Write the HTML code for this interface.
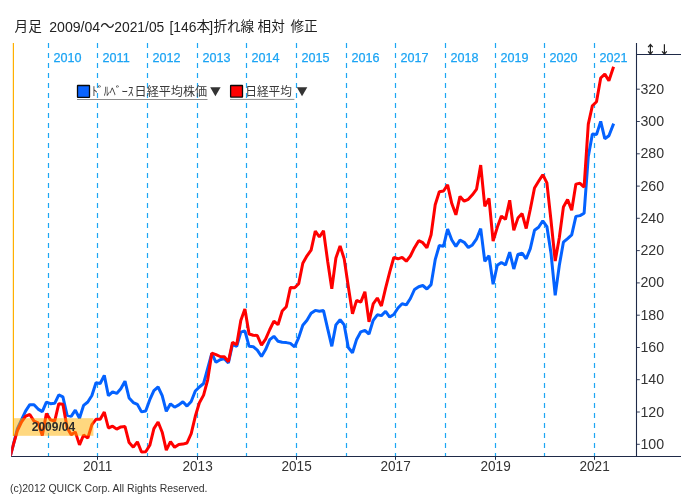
<!DOCTYPE html><html><head><meta charset="utf-8"><title>chart</title><style>html,body{margin:0;padding:0;background:#fff}</style></head><body><svg width="692" height="501" viewBox="0 0 692 501" style="display:block;will-change:transform;font-family:'Liberation Sans',sans-serif"><defs><clipPath id="cp"><rect x="11.2" y="0" width="640" height="456.5"/></clipPath></defs><rect width="692" height="501" fill="#fff"/><text x="14.6" y="31.2" font-size="13.6" fill="#222" style="font-family:'Liberation Sans','Noto Sans CJK JP',sans-serif">月足</text><text x="49.2" y="31.8" font-size="13.9" fill="#222" textLength="51" lengthAdjust="spacingAndGlyphs">2009/04</text><text x="100.2" y="31.2" font-size="14.4" fill="#222" style="font-family:'Liberation Sans','Noto Sans CJK JP',sans-serif">〜</text><text x="114.3" y="31.8" font-size="13.9" fill="#222" textLength="50" lengthAdjust="spacingAndGlyphs">2021/05</text><text x="169.4" y="31.8" font-size="13.9" fill="#222" textLength="27" lengthAdjust="spacingAndGlyphs">[146</text><text x="196.6" y="31.2" font-size="13.6" fill="#222" style="font-family:'Liberation Sans','Noto Sans CJK JP',sans-serif">本</text><text x="209.3" y="31.8" font-size="13.9" fill="#222">]</text><text x="213.4" y="31.2" font-size="13.6" fill="#222" style="font-family:'Liberation Sans','Noto Sans CJK JP',sans-serif">折れ線</text><text x="257.6" y="31.2" font-size="13.6" fill="#222" style="font-family:'Liberation Sans','Noto Sans CJK JP',sans-serif">相対</text><text x="290.4" y="31.2" font-size="13.6" fill="#222" style="font-family:'Liberation Sans','Noto Sans CJK JP',sans-serif">修正</text><line x1="48.5" y1="43.0" x2="48.5" y2="456.5" stroke="#1ca6f4" stroke-width="1.2" stroke-dasharray="4.9 5.1"/><text x="53.6" y="61.9" font-size="12.6" fill="#1ca4f4" stroke="#1ca4f4" stroke-width="0.25">2010</text><line x1="97.5" y1="43.0" x2="97.5" y2="456.5" stroke="#1ca6f4" stroke-width="1.2" stroke-dasharray="4.9 5.1"/><text x="102.6" y="61.9" font-size="12.6" fill="#1ca4f4" stroke="#1ca4f4" stroke-width="0.25">2011</text><line x1="147.5" y1="43.0" x2="147.5" y2="456.5" stroke="#1ca6f4" stroke-width="1.2" stroke-dasharray="4.9 5.1"/><text x="152.6" y="61.9" font-size="12.6" fill="#1ca4f4" stroke="#1ca4f4" stroke-width="0.25">2012</text><line x1="197.5" y1="43.0" x2="197.5" y2="456.5" stroke="#1ca6f4" stroke-width="1.2" stroke-dasharray="4.9 5.1"/><text x="202.6" y="61.9" font-size="12.6" fill="#1ca4f4" stroke="#1ca4f4" stroke-width="0.25">2013</text><line x1="246.5" y1="43.0" x2="246.5" y2="456.5" stroke="#1ca6f4" stroke-width="1.2" stroke-dasharray="4.9 5.1"/><text x="251.6" y="61.9" font-size="12.6" fill="#1ca4f4" stroke="#1ca4f4" stroke-width="0.25">2014</text><line x1="296.5" y1="43.0" x2="296.5" y2="456.5" stroke="#1ca6f4" stroke-width="1.2" stroke-dasharray="4.9 5.1"/><text x="301.6" y="61.9" font-size="12.6" fill="#1ca4f4" stroke="#1ca4f4" stroke-width="0.25">2015</text><line x1="346.5" y1="43.0" x2="346.5" y2="456.5" stroke="#1ca6f4" stroke-width="1.2" stroke-dasharray="4.9 5.1"/><text x="351.6" y="61.9" font-size="12.6" fill="#1ca4f4" stroke="#1ca4f4" stroke-width="0.25">2016</text><line x1="395.5" y1="43.0" x2="395.5" y2="456.5" stroke="#1ca6f4" stroke-width="1.2" stroke-dasharray="4.9 5.1"/><text x="400.6" y="61.9" font-size="12.6" fill="#1ca4f4" stroke="#1ca4f4" stroke-width="0.25">2017</text><line x1="445.5" y1="43.0" x2="445.5" y2="456.5" stroke="#1ca6f4" stroke-width="1.2" stroke-dasharray="4.9 5.1"/><text x="450.6" y="61.9" font-size="12.6" fill="#1ca4f4" stroke="#1ca4f4" stroke-width="0.25">2018</text><line x1="495.5" y1="43.0" x2="495.5" y2="456.5" stroke="#1ca6f4" stroke-width="1.2" stroke-dasharray="4.9 5.1"/><text x="500.6" y="61.9" font-size="12.6" fill="#1ca4f4" stroke="#1ca4f4" stroke-width="0.25">2019</text><line x1="544.5" y1="43.0" x2="544.5" y2="456.5" stroke="#1ca6f4" stroke-width="1.2" stroke-dasharray="4.9 5.1"/><text x="549.6" y="61.9" font-size="12.6" fill="#1ca4f4" stroke="#1ca4f4" stroke-width="0.25">2020</text><line x1="594.5" y1="43.0" x2="594.5" y2="456.5" stroke="#1ca6f4" stroke-width="1.2" stroke-dasharray="4.9 5.1"/><text x="599.6" y="61.9" font-size="12.6" fill="#1ca4f4" stroke="#1ca4f4" stroke-width="0.25">2021</text><rect x="77.5" y="85.5" width="12" height="11.9" rx="0.3" fill="#0a64ff" stroke="#0a0a0a" stroke-width="1.3"/><text x="91.8" y="96.3" font-size="12.4" fill="#3a3a3a" textLength="42" lengthAdjust="spacingAndGlyphs" style="font-family:'Liberation Sans','Noto Sans CJK JP',sans-serif">ﾄﾞﾙﾍﾞｰｽ</text><text x="134.6" y="96.3" font-size="12.1" fill="#3a3a3a" textLength="72.5" lengthAdjust="spacingAndGlyphs" style="font-family:'Liberation Sans','Noto Sans CJK JP',sans-serif">日経平均株価</text><line x1="77" y1="99.5" x2="207.5" y2="99.5" stroke="#8c8c8c" stroke-width="1"/><path d="M210.2 87.3h10.4l-5.2 9z" fill="#333"/><rect x="230.6" y="85.5" width="11.9" height="11.6" rx="0.3" fill="#ff0000" stroke="#0a0a0a" stroke-width="1.3"/><text x="245.2" y="96.3" font-size="12.1" fill="#3a3a3a" textLength="46.8" lengthAdjust="spacingAndGlyphs" style="font-family:'Liberation Sans','Noto Sans CJK JP',sans-serif">日経平均</text><line x1="230" y1="99.4" x2="294.4" y2="99.4" stroke="#8c8c8c" stroke-width="1"/><path d="M296.8 87.3h10.5l-5.25 9z" fill="#333"/><g clip-path="url(#cp)"><polyline points="9.2,460.3 13.3,444.8 17.4,428.6 21.6,419.6 25.7,410.9 29.8,404.7 34.0,404.7 38.1,409.1 42.3,411.6 46.4,402.1 50.5,403.7 54.7,403.3 58.8,394.9 62.9,396.8 67.1,415.3 71.2,416.4 75.3,410.2 79.5,418.2 83.6,405.4 87.8,402.0 91.9,395.5 96.0,382.8 100.2,383.5 104.3,375.4 108.4,395.7 112.6,391.9 116.7,393.4 120.8,388.7 125.0,381.2 129.1,398.0 133.3,402.6 137.4,404.4 141.5,411.9 145.7,411.0 149.8,399.7 153.9,390.6 158.1,387.0 162.2,395.7 166.3,411.3 170.5,403.8 174.6,407.2 178.8,404.9 182.9,401.8 187.0,406.1 191.2,401.5 195.3,391.0 199.4,387.0 203.6,383.5 207.7,368.5 211.8,353.5 216.0,362.3 220.1,359.8 224.3,358.6 228.4,362.9 232.5,344.4 236.7,346.3 240.8,332.2 244.9,330.8 249.1,346.3 253.2,346.7 257.3,350.1 261.5,356.5 265.6,349.6 269.8,339.7 273.9,336.3 278.0,341.3 282.2,342.3 286.3,342.6 290.4,343.4 294.6,346.9 298.7,337.6 302.8,325.2 307.0,320.3 311.1,313.3 315.3,310.4 319.4,311.3 323.5,310.6 327.7,328.9 331.8,346.3 335.9,324.9 340.1,319.7 344.2,324.9 348.3,347.5 352.5,352.7 356.6,339.4 360.8,331.8 364.9,330.3 369.0,334.1 373.2,320.3 377.3,314.8 381.4,315.6 385.6,311.3 389.7,317.1 393.8,314.5 398.0,308.0 402.1,303.8 406.3,304.9 410.4,298.5 414.5,289.5 418.7,286.7 422.8,285.5 426.9,289.0 431.1,284.6 435.2,259.7 439.3,245.5 443.5,246.4 447.6,229.0 451.8,240.0 455.9,246.4 460.0,240.2 464.2,242.3 468.3,247.5 472.4,244.9 476.6,238.8 480.7,228.6 484.8,261.4 489.0,255.6 493.1,284.3 497.3,265.2 501.4,262.5 505.5,265.0 509.7,252.2 513.8,269.0 517.9,254.5 522.1,253.2 526.2,258.8 530.3,248.6 534.5,230.3 538.6,227.2 542.8,220.8 546.9,226.6 551.0,253.2 555.2,295.3 559.3,265.5 563.4,242.2 567.6,238.6 571.7,234.9 575.9,216.4 580.0,215.6 584.1,213.3 588.3,156.5 592.4,134.0 596.5,134.6 600.7,121.4 604.8,138.7 608.9,135.7 613.1,125.0" fill="none" stroke="#0462ff" stroke-width="3" stroke-linejoin="bevel" stroke-linecap="square"/><polyline points="9.2,460.4 13.3,444.9 17.4,430.7 21.6,421.8 25.7,416.1 29.8,414.5 34.0,421.1 38.1,422.9 42.3,435.4 46.4,413.6 50.5,419.9 54.7,421.2 58.8,403.7 62.9,404.3 67.1,427.7 71.2,434.8 75.3,431.9 79.5,444.9 83.6,435.0 87.8,438.1 91.9,424.7 96.0,419.3 100.2,419.2 104.3,412.1 108.4,428.0 112.6,426.2 116.7,429.1 120.8,426.9 125.0,426.6 129.1,442.6 133.3,447.2 137.4,441.9 141.5,452.0 145.7,451.7 149.8,445.3 153.9,428.6 158.1,422.0 162.2,432.2 166.3,450.1 170.5,441.6 174.6,447.3 178.8,444.6 182.9,444.1 187.0,443.0 191.2,433.6 195.3,416.3 199.4,402.8 203.6,395.1 207.7,379.8 211.8,353.2 216.0,354.7 220.1,356.5 224.3,356.7 228.4,361.8 232.5,342.3 236.7,344.7 240.8,320.4 244.9,308.9 249.1,334.0 253.2,335.3 257.3,335.6 261.5,345.1 265.6,339.1 269.8,329.5 273.9,321.1 278.0,324.7 282.2,311.0 286.3,306.7 290.4,287.6 294.6,287.8 298.7,283.7 302.8,263.2 307.0,255.8 311.1,250.1 315.3,231.1 319.4,237.0 323.5,230.7 327.7,261.5 331.8,288.9 335.9,258.0 340.1,245.9 344.2,258.9 348.3,286.5 352.5,313.7 356.6,300.4 360.8,302.1 364.9,291.7 369.0,321.9 373.2,303.8 377.3,298.0 381.4,306.0 385.6,288.2 389.7,272.2 393.8,257.5 398.0,258.8 402.1,257.4 406.3,261.2 410.4,256.0 414.5,247.7 418.7,240.7 422.8,242.7 426.9,247.8 431.1,234.8 435.2,204.7 439.3,191.7 443.5,191.0 447.6,184.9 451.8,203.6 455.9,214.8 460.0,196.4 464.2,201.2 468.3,199.3 472.4,194.8 476.6,189.1 480.7,165.1 484.8,206.3 489.0,198.5 493.1,241.1 497.3,227.2 501.4,216.1 505.5,219.4 509.7,200.2 513.8,230.4 517.9,218.1 522.1,213.6 526.2,228.5 530.3,209.3 534.5,188.0 538.6,181.3 542.8,174.7 546.9,182.9 551.0,220.5 555.2,261.1 559.3,237.8 563.4,207.1 567.6,199.6 571.7,210.2 575.9,184.1 580.0,183.3 584.1,187.1 588.3,124.1 592.4,105.7 596.5,101.7 600.7,78.0 604.8,74.1 608.9,80.8 613.1,68.2" fill="none" stroke="#ff0000" stroke-width="3" stroke-linejoin="bevel" stroke-linecap="square"/></g><line x1="13.4" y1="43.0" x2="13.4" y2="436" stroke="#ffb000" stroke-width="1.2"/><rect x="13" y="418.2" width="80.4" height="17.6" fill="#ffb100" fill-opacity="0.5"/><text x="53.4" y="431.2" font-size="12" font-weight="bold" fill="#2a2a2a" text-anchor="middle">2009/04</text><line x1="11.2" y1="456.5" x2="681" y2="456.5" stroke="#1f2a48" stroke-width="1.1"/><line x1="636.5" y1="43.0" x2="636.5" y2="456.5" stroke="#1f2a48" stroke-width="1.1"/><line x1="636.5" y1="54.5" x2="681" y2="54.5" stroke="#1f2a48" stroke-width="1"/><g stroke="#222" stroke-width="1.2" fill="none"><path d="M650.4 44.6v9.2M648.1 47.1l2.3-2.6 2.3 2.6M648.1 51.4l2.3 2.6 2.3-2.6"/><path d="M664.4 44.2v9.6M662 51.3l2.4 2.7 2.4-2.7"/></g><line x1="636.5" y1="444.3" x2="639.8" y2="444.3" stroke="#1f2a48" stroke-width="0.9"/><text transform="translate(640.4,448.8) scale(1.03,1)" font-size="13.8" fill="#333">100</text><line x1="636.5" y1="412.0" x2="639.8" y2="412.0" stroke="#1f2a48" stroke-width="0.9"/><text transform="translate(640.4,416.5) scale(1.03,1)" font-size="13.8" fill="#333">120</text><line x1="636.5" y1="379.7" x2="639.8" y2="379.7" stroke="#1f2a48" stroke-width="0.9"/><text transform="translate(640.4,384.2) scale(1.03,1)" font-size="13.8" fill="#333">140</text><line x1="636.5" y1="347.5" x2="639.8" y2="347.5" stroke="#1f2a48" stroke-width="0.9"/><text transform="translate(640.4,352.0) scale(1.03,1)" font-size="13.8" fill="#333">160</text><line x1="636.5" y1="315.2" x2="639.8" y2="315.2" stroke="#1f2a48" stroke-width="0.9"/><text transform="translate(640.4,319.7) scale(1.03,1)" font-size="13.8" fill="#333">180</text><line x1="636.5" y1="282.9" x2="639.8" y2="282.9" stroke="#1f2a48" stroke-width="0.9"/><text transform="translate(640.4,287.4) scale(1.03,1)" font-size="13.8" fill="#333">200</text><line x1="636.5" y1="250.6" x2="639.8" y2="250.6" stroke="#1f2a48" stroke-width="0.9"/><text transform="translate(640.4,255.1) scale(1.03,1)" font-size="13.8" fill="#333">220</text><line x1="636.5" y1="218.3" x2="639.8" y2="218.3" stroke="#1f2a48" stroke-width="0.9"/><text transform="translate(640.4,222.8) scale(1.03,1)" font-size="13.8" fill="#333">240</text><line x1="636.5" y1="186.1" x2="639.8" y2="186.1" stroke="#1f2a48" stroke-width="0.9"/><text transform="translate(640.4,190.6) scale(1.03,1)" font-size="13.8" fill="#333">260</text><line x1="636.5" y1="153.8" x2="639.8" y2="153.8" stroke="#1f2a48" stroke-width="0.9"/><text transform="translate(640.4,158.3) scale(1.03,1)" font-size="13.8" fill="#333">280</text><line x1="636.5" y1="121.5" x2="639.8" y2="121.5" stroke="#1f2a48" stroke-width="0.9"/><text transform="translate(640.4,126.0) scale(1.03,1)" font-size="13.8" fill="#333">300</text><line x1="636.5" y1="89.2" x2="639.8" y2="89.2" stroke="#1f2a48" stroke-width="0.9"/><text transform="translate(640.4,93.7) scale(1.03,1)" font-size="13.8" fill="#333">320</text><line x1="97.5" y1="456.5" x2="97.5" y2="459.8" stroke="#1f2a48" stroke-width="1"/><text transform="translate(97.6,471) scale(1.03,1.1)" font-size="13.2" fill="#333" text-anchor="middle">2011</text><line x1="197.5" y1="456.5" x2="197.5" y2="459.8" stroke="#1f2a48" stroke-width="1"/><text transform="translate(197.6,471) scale(1.03,1.1)" font-size="13.2" fill="#333" text-anchor="middle">2013</text><line x1="296.5" y1="456.5" x2="296.5" y2="459.8" stroke="#1f2a48" stroke-width="1"/><text transform="translate(296.6,471) scale(1.03,1.1)" font-size="13.2" fill="#333" text-anchor="middle">2015</text><line x1="395.5" y1="456.5" x2="395.5" y2="459.8" stroke="#1f2a48" stroke-width="1"/><text transform="translate(395.6,471) scale(1.03,1.1)" font-size="13.2" fill="#333" text-anchor="middle">2017</text><line x1="495.5" y1="456.5" x2="495.5" y2="459.8" stroke="#1f2a48" stroke-width="1"/><text transform="translate(495.6,471) scale(1.03,1.1)" font-size="13.2" fill="#333" text-anchor="middle">2019</text><line x1="594.5" y1="456.5" x2="594.5" y2="459.8" stroke="#1f2a48" stroke-width="1"/><text transform="translate(594.6,471) scale(1.03,1.1)" font-size="13.2" fill="#333" text-anchor="middle">2021</text><text x="10" y="492.1" font-size="11.3" fill="#333" textLength="197.5" lengthAdjust="spacingAndGlyphs">(c)2012 QUICK Corp. All Rights Reserved.</text></svg></body></html>
